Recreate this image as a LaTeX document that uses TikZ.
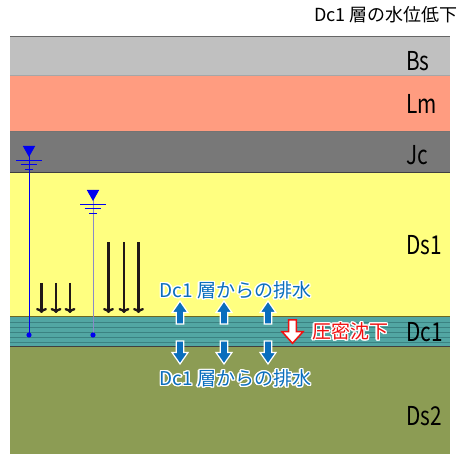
\documentclass[tikz,border=0pt]{standalone}
\usepackage{fontspec}
\setmainfont{Noto Sans CJK JP}
\newfontfamily\layerfont[FakeStretch=0.8]{Noto Sans CJK JP}
\usepackage{contour}
\contourlength{1.3pt}
\usetikzlibrary{arrows.meta}

\definecolor{bscol}{HTML}{C0C0C0}
\definecolor{lmcol}{HTML}{FF9C80}
\definecolor{jccol}{HTML}{787878}
\definecolor{dsonecol}{HTML}{FFFF80}
\definecolor{dconecol}{HTML}{52A6A3}
\definecolor{stripecol}{HTML}{3B8282}
\definecolor{dstwocol}{HTML}{8C9C54}
\definecolor{drainblue}{HTML}{0A6EBD}
\definecolor{sinkred}{HTML}{F01010}
\definecolor{wellblue}{HTML}{0000F0}
\definecolor{pipegray}{HTML}{8A8AC8}
\definecolor{loadcol}{HTML}{201818}

\begin{document}
\begin{tikzpicture}[
                   x = 1pt,
                   y = -1pt,
        layer/.style = {font=\layerfont\fontsize{26pt}{26pt}\selectfont,
                        anchor=west, inner sep=0pt},
        drain/.style = {font=\fontsize{19pt}{19pt}\selectfont,
                        text=drainblue, inner sep=0pt},
         load/.style = {draw=loadcol, line width=2.3pt,
                        -{To[length=5pt,width=11pt]}},
     boundary/.style = {line width=1pt},
   drainarrow/.pic   = {\draw[draw=white, fill=drainblue, line width=1.2pt]
                        (-3.7,0) -- (3.7,0) -- (3.7,11.5) -- (8,11.5) -- (0,23)
                        -- (-8,11.5) -- (-3.7,11.5) -- cycle;},
    sinkarrow/.pic   = {\draw[draw=sinkred, fill=white, line width=1.5pt]
                        (-3.8,0) -- (3.8,0) -- (3.8,11.7) -- (10.5,11.7) -- (0,23.3)
                        -- (-10.5,11.7) -- (-3.8,11.7) -- cycle;},
    watermark/.pic   = {\fill[wellblue] (-6.2,0) -- (6.2,0) -- (0,11) -- cycle;
                        \draw[wellblue, line width=0.8pt]
                          (-12.8,14) -- (12.8,14)
                          (-8.3,18) -- (8.3,18)
                          (-4,23) -- (4,23);},
                   ]
\useasboundingbox (0,0) rectangle (461,454);

% soil layers
\fill[bscol]     (10,37)    rectangle (450,75.5);
\fill[lmcol]     (10,75.5)  rectangle (450,131.5);
\fill[jccol]     (10,131.5) rectangle (450,173);
\fill[dsonecol]  (10,173)   rectangle (450,316.5);
\fill[dconecol]  (10,316.5) rectangle (450,347);
\fill[dstwocol]  (10,347)   rectangle (450,454);
\foreach \y in {322.7,327.7,332.7,337.7,342.7}
    \draw[stripecol, line width=1.3pt] (10,\y) -- (450,\y);
\draw[boundary, black!60]  (10,37)    -- (450,37);
\draw[boundary, black!35]  (10,75.5)  -- (450,75.5);
\draw[boundary, black!55]  (10,131.5) -- (450,131.5);
\draw[boundary, black!75]  (10,173)   -- (450,173);
\draw[boundary, olive!70!black] (10,316.5) -- (450,316.5);
\draw[boundary, black!75]  (10,347)   -- (450,347);

% layer names
\node[layer] (bs)   at (406,61.5) {Bs};
\node[layer] (lm)   at (406,104)  {Lm};
\node[layer] (jc)   at (406,155)  {Jc};
\node[layer] (dsone) at (406,245) {Ds1};
\node[layer] (dcone) at (406,332) {Dc1};
\node[layer] (dstwo) at (406,416) {Ds2};

\node[anchor=east, inner sep=0pt, font=\fontsize{18pt}{18pt}\selectfont]
    (title) at (458,15) {Dc1 層の水位低下};

% observation wells
\coordinate (wellatop) at (29,146);
\coordinate (wellabot) at (29,335);
\coordinate (wellbtop) at (93,190);
\coordinate (wellbbot) at (93,335);
\draw[wellblue, line width=0.8pt] (wellatop) -- (wellabot);
\draw[pipegray, line width=0.8pt] (wellbtop) -- (wellbbot);
\pic at (wellatop) {watermark};
\pic at (wellbtop) {watermark};
\fill[wellblue] (wellabot) circle (2.6);
\fill[wellblue] (wellbbot) circle (2.6);

% load from the lowered head
\foreach \x in {41.5,56,70}
    \draw[load] (\x,283) -- (\x,313);
\foreach \x in {108.5,124,138.5}
    \draw[load] (\x,242.5) -- (\x,313);

% drainage out of Dc1
\foreach \x in {180,224,268} {
    \pic[rotate=180] at (\x,324) {drainarrow};
    \pic at (\x,341) {drainarrow};
}
\node[drain] (drainup)   at (235.5,291) {\contour{white}{Dc1 層からの排水}};
\node[drain] (draindown) at (235.5,379) {\contour{white}{Dc1 層からの排水}};

% consolidation settlement
\pic at (292.5,320) {sinkarrow};
\node[anchor=west, inner sep=0pt, text=sinkred,
      font=\fontsize{19pt}{19pt}\selectfont]
    (sink) at (312,332) {\contour{white}{圧密沈下}};
\end{tikzpicture}
\end{document}
